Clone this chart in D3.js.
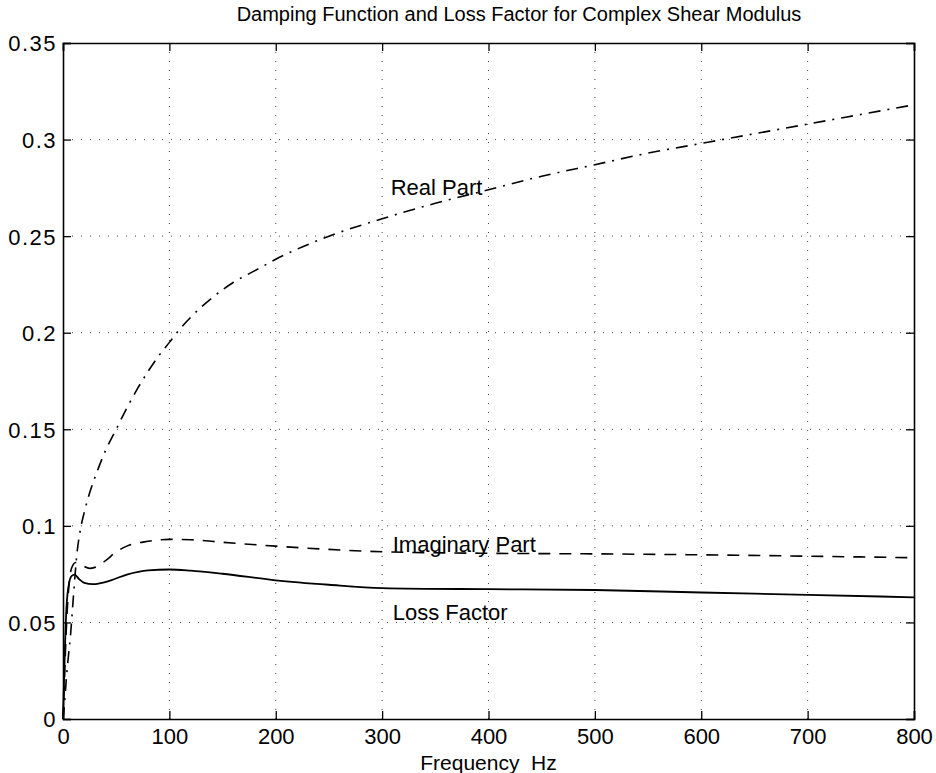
<!DOCTYPE html>
<html>
<head>
<meta charset="utf-8">
<script src="https://cdn.jsdelivr.net/npm/d3@7"></script>
<style>
  body { margin: 0; background: #fff; }
  svg { display: block; font-family: "Liberation Sans", Arial, sans-serif; }
</style>
</head>
<body>
<div id="chart"></div>
<script>
// Frequency samples (Hz) and the three curves
const freqReal = [0, 1, 2, 3, 5, 7, 10, 13, 16, 20, 25, 32, 40, 50, 60, 70, 80, 90, 100, 107, 120, 140, 160, 180, 200, 250, 300, 350, 400, 450, 500, 550, 600, 650, 700, 750, 800];
const realPart = [0, 0.005, 0.012, 0.02, 0.032, 0.043, 0.065, 0.085, 0.097, 0.107, 0.117, 0.128, 0.139, 0.15, 0.161, 0.171, 0.18, 0.188, 0.195, 0.2, 0.208, 0.218, 0.226, 0.232, 0.238, 0.25, 0.259, 0.267, 0.274, 0.281, 0.287, 0.293, 0.298, 0.303, 0.308, 0.313, 0.318];

const freqImag = [0, 1, 2, 3, 5, 8, 12, 18, 25, 30, 40, 50, 60, 80, 100, 120, 150, 200, 250, 300, 400, 500, 600, 700, 800];
const imagPart = [0, 0.015, 0.03, 0.045, 0.065, 0.078, 0.081, 0.0795, 0.078, 0.0785, 0.082, 0.0865, 0.0895, 0.092, 0.093, 0.0928, 0.0915, 0.0895, 0.0878, 0.0866, 0.0858, 0.0855, 0.085, 0.0843, 0.0835];

const freqLoss = [0, 1, 2, 3, 5, 8, 11, 15, 20, 28, 35, 45, 60, 80, 100, 120, 150, 200, 250, 300, 400, 500, 600, 700, 800];
const lossFactor = [0, 0.02, 0.04, 0.055, 0.068, 0.074, 0.0747, 0.0725, 0.0705, 0.0698, 0.0703, 0.0718, 0.0748, 0.077, 0.0774, 0.0768, 0.0752, 0.0718, 0.0695, 0.0678, 0.0672, 0.0668, 0.0655, 0.0643, 0.063];

const xTicks = [0, 100, 200, 300, 400, 500, 600, 700, 800];
const yTicks = [0, 0.05, 0.1, 0.15, 0.2, 0.25, 0.3, 0.35];
const yTickLabels = ["0", "0.05", "0.1", "0.15", "0.2", "0.25", "0.3", "0.35"];

const curveLabels = [
  { text: "Real Part", f: 308, v: 0.2715 },
  { text: "Imaginary Part", f: 310, v: 0.0865 },
  { text: "Loss Factor", f: 310, v: 0.0512 }
];

(function chart() {
  const WIDTH = 936;
  const HEIGHT = 773;
  const margin = { left: 63, right: 22, top: 43, bottom: 54 };

  const svg = d3.select("#chart").append("svg")
    .attr("width", WIDTH)
    .attr("height", HEIGHT);

  const x = d3.scaleLinear().domain([0, 800]).range([margin.left, WIDTH - margin.right]);
  const y = d3.scaleLinear().domain([0, 0.35]).range([HEIGHT - margin.bottom, margin.top]);

  // dotted grid
  const grid = svg.append("g")
    .attr("stroke", "#444")
    .attr("stroke-width", 1)
    .attr("stroke-dasharray", "1,8");
  grid.selectAll("line.gx").data(xTicks.slice(1, -1)).join("line")
    .attr("x1", d => x(d)).attr("x2", d => x(d))
    .attr("y1", y(0)).attr("y2", y(0.35));
  grid.selectAll("line.gy").data(yTicks.slice(1, -1)).join("line")
    .attr("x1", x(0)).attr("x2", x(800))
    .attr("y1", d => y(d)).attr("y2", d => y(d));

  // axes: ticks pointing inward on all four sides
  const tick = 8;
  const bottom = svg.append("g")
    .attr("transform", `translate(0,${y(0)})`)
    .call(d3.axisBottom(x).tickValues(xTicks).tickSize(-tick).tickPadding(9));
  const top = svg.append("g")
    .attr("transform", `translate(0,${y(0.35)})`)
    .call(d3.axisTop(x).tickValues(xTicks).tickSize(-tick).tickFormat(""));
  const left = svg.append("g")
    .attr("transform", `translate(${x(0)},0)`)
    .call(d3.axisLeft(y).tickValues(yTicks).tickSize(-tick).tickPadding(6)
      .tickFormat((d, i) => yTickLabels[i]));
  const right = svg.append("g")
    .attr("transform", `translate(${x(800)},0)`)
    .call(d3.axisRight(y).tickValues(yTicks).tickSize(-tick).tickFormat(""));

  [bottom, top, left, right].forEach(g => {
    g.select(".domain").attr("stroke", "#000").attr("stroke-width", 1.6);
    g.selectAll(".tick line").attr("stroke", "#000").attr("stroke-width", 1.3);
    g.selectAll(".tick text")
      .attr("fill", "#000")
      .style("font-size", "22px")
      .style("font-family", "'Liberation Sans', Arial, sans-serif");
  });
  left.selectAll(".tick text").attr("dy", "0.36em").style("letter-spacing", "1.5px");

  // curves
  const line = d3.line()
    .x(d => x(d[0]))
    .y(d => y(d[1]))
    .curve(d3.curveMonotoneX);

  svg.append("path")
    .datum(d3.zip(freqReal, realPart))
    .attr("fill", "none")
    .attr("stroke", "#000")
    .attr("stroke-width", 1.6)
    .attr("stroke-dasharray", "12,7,2,7")
    .attr("d", line);

  svg.append("path")
    .datum(d3.zip(freqImag, imagPart))
    .attr("fill", "none")
    .attr("stroke", "#000")
    .attr("stroke-width", 1.6)
    .attr("stroke-dasharray", "12,9")
    .attr("d", line);

  svg.append("path")
    .datum(d3.zip(freqLoss, lossFactor))
    .attr("fill", "none")
    .attr("stroke", "#000")
    .attr("stroke-width", 1.8)
    .attr("d", line);

  // in-plot labels
  svg.selectAll("text.curve-label").data(curveLabels).join("text")
    .attr("class", "curve-label")
    .attr("x", d => x(d.f))
    .attr("y", d => y(d.v))
    .attr("fill", "#000")
    .style("font-size", "22px")
    .text(d => d.text);

  // title and axis label
  svg.append("text")
    .attr("x", 519)
    .attr("y", 21)
    .attr("text-anchor", "middle")
    .attr("fill", "#000")
    .style("font-size", "20px")
    .text("Damping Function and Loss Factor for Complex Shear Modulus");

  svg.append("text")
    .attr("x", (x(0) + x(800)) / 2)
    .attr("y", 770)
    .attr("text-anchor", "middle")
    .attr("fill", "#000")
    .style("font-size", "21px")
    .style("white-space", "pre")
    .text("Frequency  Hz");
})();
</script>
</body>
</html>
